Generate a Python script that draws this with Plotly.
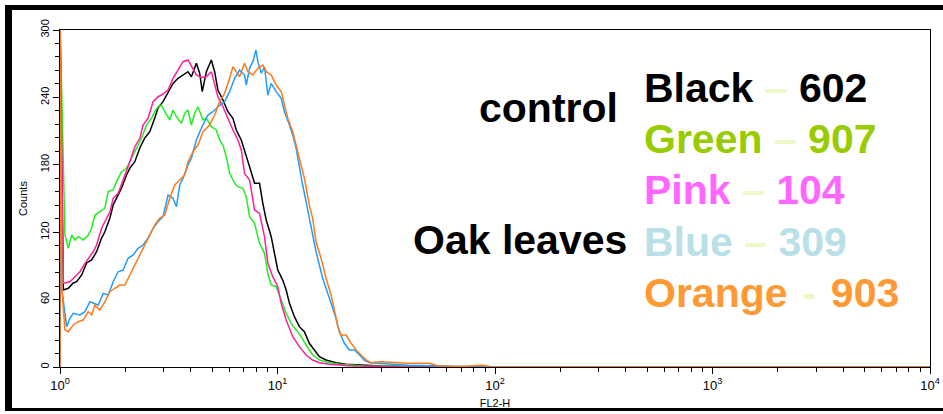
import plotly.graph_objects as go

# ---------------- data (FL2-H value, Counts) ----------------
BLACK = [(1.0, 0), (1.0, 310), (1.036, 68.5), (1.092, 70.1), (1.151, 74.8), (1.193, 75.9), (1.258, 81.9),
         (1.326, 92.6), (1.398, 95.3), (1.473, 102.6), (1.553, 114.8), (1.608, 120.4), (1.696, 132.6),
         (1.756, 144.2), (1.820, 150.4), (1.919, 159.3), (2.023, 170.9), (2.095, 177.1), (2.208, 182.8),
         (2.328, 195.0), (2.454, 203.9), (2.587, 209.5), (2.727, 221.7), (2.824, 230.6), (2.977, 236.2),
         (3.139, 245.1), (3.309, 252.5), (3.489, 257.0), (3.678, 259.9), (3.877, 262.9), (4.019, 258.4),
         (4.237, 270.4), (4.387, 261.5), (4.51, 245.1), (4.709, 262.9), (4.964, 273.3), (5.140, 262.9),
         (5.322, 246.6), (5.612, 237.7), (5.916, 227.3), (6.237, 221.4), (6.465, 211.0), (6.815, 202.1),
         (7.057, 191.7), (7.440, 178.3), (7.843, 163.5), (8.268, 163.5), (8.561, 145.7), (8.874, 130.9),
         (9.355, 116.0), (9.687, 101.2), (10.03, 86.3), (10.57, 77.4), (10.96, 68.5), (11.35, 56.7),
         (11.96, 44.8), (12.61, 35.9), (13.29, 31.4), (14.01, 21.1), (14.77, 15.1), (15.58, 9.2),
         (16.72, 6.2), (18.58, 3.8), (20.67, 2.4), (25.0, 1.5), (30.0, 1.0), (40.0, 0.5), (50.0, 0),
         (10000, 0)]

GREEN = [(1.0, 0), (1.0, 310), (1.054, 117.5), (1.092, 105.7), (1.132, 117.5), (1.172, 113.1), (1.213, 116.0),
         (1.279, 113.1), (1.348, 117.5), (1.398, 123.5), (1.447, 135.3), (1.526, 138.2), (1.608, 141.3),
         (1.666, 156.1), (1.756, 157.6), (1.820, 165.0), (1.919, 173.9), (2.023, 176.9), (2.132, 185.8),
         (2.248, 194.7), (2.370, 203.6), (2.499, 215.4), (2.634, 221.4), (2.727, 227.3), (2.824, 231.7),
         (2.927, 233.2), (3.031, 227.3), (3.196, 219.9), (3.309, 228.8), (3.430, 222.8), (3.616, 216.9),
         (3.745, 225.8), (3.877, 228.8), (4.019, 215.4), (4.162, 225.8), (4.309, 231.7), (4.543, 219.9),
         (4.709, 221.4), (4.964, 213.9), (5.233, 211.0), (5.419, 202.1), (5.612, 197.6), (5.817, 187.2),
         (6.024, 172.4), (6.350, 163.5), (6.575, 160.5), (6.932, 159.1), (7.185, 151.6), (7.440, 133.8),
         (7.843, 127.9), (8.268, 110.1), (8.716, 101.2), (9.025, 83.4), (9.355, 73.0), (9.862, 71.5),
         (10.40, 59.6), (10.96, 47.8), (11.55, 38.9), (12.18, 32.9), (12.84, 27.0), (13.53, 19.6),
         (14.51, 10.7), (15.58, 6.2), (17.31, 3.8), (19.25, 2.4), (25.0, 1.0), (35.0, 0.5), (45.0, 0),
         (10000, 0)]

PINK = [(1.0, 0), (1.0, 310), (1.036, 74.5), (1.111, 75.9), (1.172, 80.4), (1.235, 84.8), (1.302, 92.3),
        (1.348, 96.8), (1.421, 102.6), (1.473, 108.6), (1.553, 123.5), (1.608, 129.3), (1.696, 138.2),
        (1.756, 150.2), (1.851, 154.6), (1.951, 166.5), (2.023, 173.9), (2.095, 182.8), (2.208, 196.1),
        (2.328, 203.6), (2.410, 215.4), (2.541, 221.4), (2.679, 236.2), (2.824, 240.6), (2.927, 242.1),
        (3.139, 246.6), (3.309, 257.0), (3.489, 264.4), (3.678, 271.8), (3.877, 273.3), (4.019, 268.0),
        (4.237, 260.0), (4.467, 257.7), (4.709, 258.4), (4.964, 262.9), (5.140, 252.5), (5.322, 240.6),
        (5.612, 231.7), (6.024, 216.9), (6.237, 211.0), (6.575, 202.1), (6.815, 193.2), (7.057, 172.4),
        (7.440, 166.5), (7.843, 139.8), (8.268, 136.8), (8.716, 116.0), (9.025, 92.3), (9.514, 80.4),
        (10.03, 71.5), (10.40, 56.7), (10.96, 41.8), (11.75, 27.0), (12.61, 18.1), (13.53, 10.7),
        (14.51, 6.2), (15.58, 3.8), (17.31, 2.4), (22.0, 1.0), (30.0, 0.5), (40.0, 0), (10000, 0)]

BLUE = [(1.0, 0), (1.0, 310), (1.018, 70.3), (1.073, 35.9), (1.111, 43.4), (1.151, 47.8), (1.235, 46.3),
        (1.302, 49.2), (1.373, 58.1), (1.421, 56.7), (1.499, 55.2), (1.580, 65.6), (1.666, 64.1),
        (1.756, 75.9), (1.851, 84.8), (1.951, 86.3), (2.057, 96.8), (2.169, 99.7), (2.286, 105.7),
        (2.410, 108.6), (2.541, 114.6), (2.679, 123.5), (2.824, 129.3), (2.977, 133.8), (3.139, 153.1),
        (3.309, 150.2), (3.430, 142.7), (3.552, 162.0), (3.678, 168.0), (3.877, 179.8), (4.019, 185.8),
        (4.237, 202.1), (4.467, 212.5), (4.789, 224.3), (5.049, 227.3), (5.322, 231.7), (5.713, 236.2),
        (6.024, 245.1), (6.350, 257.0), (6.694, 264.4), (7.057, 259.9), (7.185, 251.0), (7.440, 265.9),
        (7.703, 271.8), (7.96, 282.2), (8.121, 271.8), (8.418, 261.5), (8.716, 267.3), (9.025, 242.1),
        (9.355, 252.5), (9.862, 245.1), (10.40, 239.2), (10.76, 227.3), (11.35, 215.4), (11.75, 206.5),
        (12.18, 194.7), (12.61, 176.9), (13.05, 162.0), (13.53, 147.2), (14.01, 132.4), (14.51, 114.6),
        (15.04, 102.6), (15.58, 90.8), (16.13, 79.0), (16.72, 70.1), (17.31, 61.2), (17.93, 52.3),
        (18.58, 43.4), (19.25, 31.4), (20.30, 21.1), (21.41, 15.1), (22.55, 15.1), (23.84, 10.7),
        (25.07, 6.2), (26.53, 3.8), (30.96, 2.7), (40.0, 1.5), (60.0, 1.0), (70.0, 0.5), (90.0, 0.8),
        (100.0, 0), (10000, 0)]

ORANGE = [(1.0, 0), (1.0, 310), (1.02, 70.0), (1.054, 32.9), (1.092, 31.4), (1.151, 37.4), (1.213, 40.3),
          (1.279, 41.8), (1.348, 49.2), (1.398, 46.3), (1.447, 55.2), (1.526, 50.7), (1.608, 58.1),
          (1.696, 67.0), (1.788, 70.1), (1.885, 73.0), (1.987, 73.0), (2.095, 81.9), (2.208, 90.8),
          (2.328, 99.7), (2.454, 108.6), (2.587, 117.5), (2.727, 126.4), (2.875, 132.4), (3.031, 135.3),
          (3.196, 150.2), (3.369, 162.0), (3.552, 166.5), (3.745, 170.9), (3.877, 182.8), (4.088, 191.7),
          (4.309, 197.6), (4.543, 209.5), (4.876, 215.4), (5.140, 224.3), (5.419, 236.2), (5.713, 243.6),
          (6.024, 257.0), (6.237, 267.3), (6.465, 262.9), (6.694, 258.4), (7.057, 270.4), (7.307, 262.9),
          (7.703, 259.9), (8.121, 265.9), (8.561, 268.8), (8.874, 262.9), (9.355, 259.9), (9.862, 251.0),
          (10.40, 245.1), (10.76, 233.2), (11.15, 221.4), (11.75, 209.5), (12.18, 197.6), (12.61, 185.8),
          (13.29, 168.0), (14.01, 144.2), (14.51, 132.4), (15.04, 111.5), (15.86, 96.8), (16.72, 79.0),
          (17.63, 64.1), (18.26, 50.7), (18.91, 36.5), (19.60, 28.5), (20.67, 28.5), (21.80, 21.1),
          (23.01, 15.1), (24.20, 10.7), (25.61, 6.2), (26.91, 3.8), (30.0, 4.7), (40.0, 3.3), (50.0, 3.3),
          (55.0, 1.0), (70.0, 0.5), (88.0, 1.5), (95.0, 0), (10000, 0)]

SERIES_NAMES = ["Black", "Green", "Pink", "Blue", "Orange"]
SERIES_DATA = [BLACK, GREEN, PINK, BLUE, ORANGE]
LINE_COLORS = ["#000000", "#22ee22", "#ff1f9a", "#1f9dff", "#ff7a1a"]

X_TICKS = [1, 10, 100, 1000, 10000]
X_TICK_TEXT = ["10<sup>0</sup>", "10<sup>1</sup>", "10<sup>2</sup>", "10<sup>3</sup>", "10<sup>4</sup>"]
Y_TICKS = [0, 60, 120, 180, 240, 300]

LABEL_NUMBERS = ["602", "907", "104", "309", "903"]
LABEL_COLORS = ["#000000", "#99cc00", "#ff66ff", "#b9e0e6", "#ff9933"]
LABEL_DASHES = ["–", "–", "–", "–", "-"]
DASH_COLOR = "#eaf9c6"
GROUP_LABELS = ["control", "Oak leaves"]

FONT = "Liberation Sans, Arial, sans-serif"

# ---------------- figure ----------------
fig = go.Figure()
for name, pts, col in zip(SERIES_NAMES, SERIES_DATA, LINE_COLORS):
    xs = [p[0] for p in pts]
    ys = [p[1] for p in pts]
    fig.add_trace(go.Scatter(x=xs, y=ys, mode="lines", name=name,
                             line=dict(color=col, width=1.5), showlegend=False, hoverinfo="skip"))

minor_x = [m * 10 ** k for k in range(4) for m in range(2, 10)]

fig.update_xaxes(type="log", range=[0, 4], tickmode="array", tickvals=X_TICKS, ticktext=X_TICK_TEXT,
                 ticks="outside", ticklen=6, tickwidth=1, tickcolor="black",
                 showline=True, linecolor="black", linewidth=1, mirror=True,
                 showgrid=False, zeroline=False, automargin=False,
                 tickfont=dict(family=FONT, size=13, color="black"),
                 minor=dict(tickmode="array", tickvals=minor_x, ticks="outside", ticklen=4,
                            tickcolor="black", tickwidth=1, showgrid=False),
                 title=dict(text="FL2-H", font=dict(family=FONT, size=11, color="black"), standoff=7))

fig.update_yaxes(range=[0, 300], tickmode="array", tickvals=Y_TICKS, tickangle=-90,
                 ticks="outside", ticklen=6, tickwidth=1, tickcolor="black",
                 showline=True, linecolor="black", linewidth=1, mirror=True,
                 showgrid=False, zeroline=False, automargin=False,
                 tickfont=dict(family=FONT, size=11, color="black"),
                 minor=dict(dtick=12, ticks="outside", ticklen=4, tickcolor="black", tickwidth=1,
                            showgrid=False),
                 title=dict(text="Counts", font=dict(family=FONT, size=11, color="black"), standoff=8))

L, R, T, B = 60, 13, 30, 47
W, H = 943, 414
PW, PH = W - L - R, H - T - B


def px(xp):
    return (xp - L) / PW


def py(yp):
    return (H - B - yp) / PH


# outer black frame (left thick bar, top thick bar, bottom thin bar)
shapes = [
    dict(type="rect", xref="paper", yref="paper", x0=px(5), x1=px(12), y0=py(411), y1=py(5),
         fillcolor="black", line=dict(width=0), layer="above"),
    dict(type="rect", xref="paper", yref="paper", x0=px(5), x1=px(943), y0=py(10), y1=py(5),
         fillcolor="black", line=dict(width=0), layer="above"),
    dict(type="rect", xref="paper", yref="paper", x0=px(5), x1=px(943), y0=py(411), y1=py(408),
         fillcolor="black", line=dict(width=0), layer="above"),
]

annotations = []
ann_font = dict(family=FONT, size=41, color="black")
annotations.append(dict(text="<b>%s</b>" % GROUP_LABELS[0], xref="paper", yref="paper",
                        x=px(477), y=py(108), xanchor="left", yanchor="middle", showarrow=False,
                        font=ann_font))
annotations.append(dict(text="<b>%s</b>" % GROUP_LABELS[1], xref="paper", yref="paper",
                        x=px(411), y=py(240), xanchor="left", yanchor="middle", showarrow=False,
                        font=ann_font))
row_centers = [88, 138.5, 190.5, 242, 293]
for name, num, col, dash, yc in zip(SERIES_NAMES, LABEL_NUMBERS, LABEL_COLORS, LABEL_DASHES, row_centers):
    sep = " " if dash != "-" else " \u200a"
    txt = "<b>%s%s<span style='color:%s'>%s</span>%s%s</b>" % (name, sep, DASH_COLOR, dash, sep, num)
    annotations.append(dict(text=txt, xref="paper", yref="paper", x=px(642), y=py(yc),
                            xanchor="left", yanchor="middle", showarrow=False,
                            font=dict(family=FONT, size=41, color=col)))

fig.update_layout(width=W, height=H, margin=dict(l=L, r=R, t=T, b=B, pad=0),
                  paper_bgcolor="white", plot_bgcolor="white", showlegend=False,
                  font=dict(family=FONT, color="black"),
                  shapes=shapes, annotations=annotations)

fig.write_html("out.html")
